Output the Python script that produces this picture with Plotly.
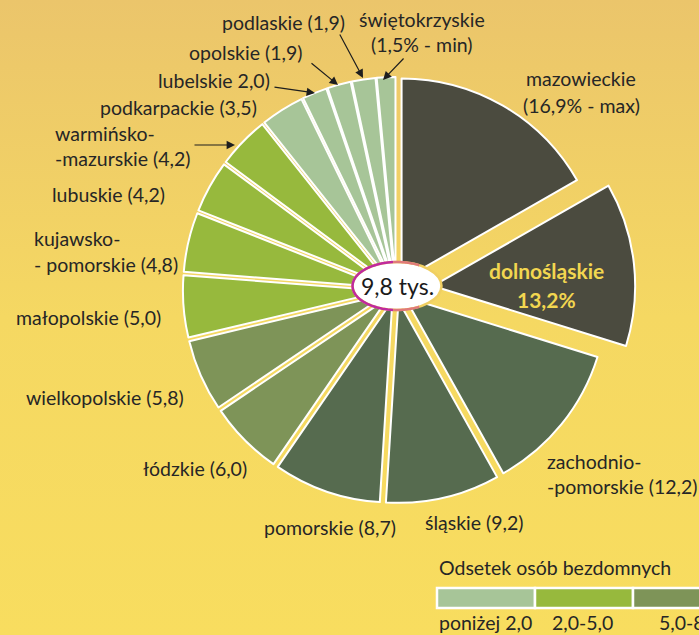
import base64
import math
import plotly.graph_objects as go

# ---------------- data ----------------
regions = ["mazowieckie", "dolnośląskie", "zachodniopomorskie", "śląskie", "pomorskie",
           "łódzkie", "wielkopolskie", "małopolskie", "kujawsko-pomorskie", "lubuskie",
           "warmińsko-mazurskie", "podkarpackie", "lubelskie", "opolskie", "podlaskie",
           "świętokrzyskie"]
shares = [16.9, 13.2, 12.2, 9.2, 8.7, 6.0, 5.8, 5.0, 4.8, 4.2, 4.2, 3.5, 2.0, 1.9, 1.9, 1.5]
share_class = [4, 4, 3, 3, 3, 2, 2, 1, 1, 1, 1, 0, 0, 0, 0, 0]
label_lines = [
    ["mazowieckie", "(16,9% - max)"],
    ["dolnośląskie", "13,2%"],
    ["zachodnio-", "-pomorskie (12,2)"],
    ["śląskie (9,2)"],
    ["pomorskie (8,7)"],
    ["łódzkie (6,0)"],
    ["wielkopolskie (5,8)"],
    ["małopolskie (5,0)"],
    ["kujawsko-", "- pomorskie (4,8)"],
    ["lubuskie (4,2)"],
    ["warmińsko-", "-mazurskie (4,2)"],
    ["podkarpackie (3,5)"],
    ["lubelskie 2,0)"],
    ["opolskie (1,9)"],
    ["podlaskie (1,9)"],
    ["świętokrzyskie", "(1,5% - min)"],
]
legend_title = "Odsetek osób bezdomnych"
legend_labels = ["poniżej 2,0", "2,0-5,0", "5,0-8,0"]
center_text = "9,8 tys."
highlight = "dolnośląskie"

# ---------------- styles ----------------
W, H = 699, 635
palette = ["#a7c598", "#97b93d", "#7e9458", "#566b4f", "#4b4b3f"]
txt_color = "#262626"
FONT = "Lato"
FS = 19.5


def P(x, y):
    return x / W, 1 - y / H


# pie geometry (pixels)
cx, cy, r = 396, 290, 202
small_pull, big_pull = 0.055, 0.185
maxpull = big_pull
half = r * (1 + maxpull)
x0, y_top = P(cx - half, cy - half)
x1, y_bot = P(cx + half, cy + half)

pulls = [big_pull if n == highlight else small_pull for n in regions]
colors = [palette[c] for c in share_class]

fig = go.Figure()
fig.add_trace(go.Pie(
    labels=regions, values=shares, sort=False, direction="clockwise", rotation=0,
    pull=pulls, textinfo="none", hoverinfo="label+value",
    marker=dict(colors=colors, line=dict(color="white", width=2)),
    domain=dict(x=[x0, x1], y=[y_bot, y_top]), showlegend=False,
))

# background gradient
svg = ('<svg xmlns="http://www.w3.org/2000/svg" width="699" height="635">'
       '<defs><linearGradient id="g" x1="0" y1="0" x2="0" y2="1">'
       '<stop offset="0" stop-color="#ebc56b"/>'
       '<stop offset="0.5" stop-color="#f5d862"/>'
       '<stop offset="1" stop-color="#f8dd5f"/>'
       '</linearGradient></defs>'
       '<rect width="699" height="635" fill="url(#g)"/></svg>')
src = "data:image/svg+xml;base64," + base64.b64encode(svg.encode()).decode()

annotations = []

# label placement (pixel positions of each line: x, y, anchor)
label_pos = {
    "mazowieckie": [(581, 79, "center"), (581, 105, "center")],
    "zachodniopomorskie": [(545, 461, "left"), (545, 487, "left")],
    "śląskie": [(474, 522, "center")],
    "pomorskie": [(330, 527, "center")],
    "łódzkie": [(195, 468, "center")],
    "wielkopolskie": [(105, 397, "center")],
    "małopolskie": [(88, 317, "center")],
    "kujawsko-pomorskie": [(32, 238, "left"), (32, 264, "left")],
    "lubuskie": [(108, 194, "center")],
    "warmińsko-mazurskie": [(53, 133, "left"), (53, 158, "left")],
    "podkarpackie": [(178, 107, "center")],
    "lubelskie": [(214, 80, "center")],
    "opolskie": [(245, 53, "center")],
    "podlaskie": [(283, 23, "center")],
    "świętokrzyskie": [(422, 20, "center"), (422, 45, "center")],
}
for name, lines in zip(regions, label_lines):
    if name == highlight:
        for ln, yy in zip(lines, (270, 299)):
            x, y = P(546, yy)
            annotations.append(dict(x=x, y=y, xref="paper", yref="paper", text="<b>%s</b>" % ln,
                                    showarrow=False, xanchor="center", yanchor="middle",
                                    font=dict(family=FONT, size=21, color="#f2d650")))
        continue
    for ln, (px, py, anc) in zip(lines, label_pos[name]):
        x, y = P(px, py)
        annotations.append(dict(x=x, y=y, xref="paper", yref="paper", text=ln, showarrow=False,
                                xanchor=anc, yanchor="middle",
                                font=dict(family=FONT, size=FS, color=txt_color)))

# leader arrows: (tail, head) in pixels
arrows = [((405, 57), (383, 80)), ((339, 33), (363, 78)), ((310, 62), (338, 85)),
          ((273, 87), (315, 93)), ((193, 145), (235, 145))]
for (tx, ty), (hx, hy) in arrows:
    x, y = P(hx, hy)
    annotations.append(dict(x=x, y=y, xref="paper", yref="paper", text="", showarrow=True,
                            ax=tx - hx, ay=ty - hy, arrowhead=2, arrowsize=1.4,
                            arrowwidth=1.2, arrowcolor="#1e1e1e", standoff=0))

shapes = []
# centre ellipse
ew, eh, ecx, ecy = 44.5, 24, 397, 286
ex0, ey0 = P(ecx - ew, ecy - eh)
ex1, ey1 = P(ecx + ew, ecy + eh)
shapes.append(dict(type="circle", xref="paper", yref="paper", x0=ex0, x1=ex1, y0=ey1, y1=ey0,
                   fillcolor="white", line=dict(color="#f0cf62", width=2.5)))


def arc_path(a0, a1, n=24):
    pts = []
    for i in range(n + 1):
        a = math.radians(a0 + (a1 - a0) * i / n)
        px = ecx + ew * math.cos(a)
        py = ecy + eh * math.sin(a)
        x, y = P(px, py)
        pts.append("%s%.5f,%.5f" % ("M" if i == 0 else "L", x, y))
    return " ".join(pts)


for a0, a1, col in [(95, 265, "#c02a9e"), (60, 95, "#e07a7a"), (265, 300, "#e07a7a")]:
    shapes.append(dict(type="path", xref="paper", yref="paper", path=arc_path(a0, a1),
                       line=dict(color=col, width=2.5)))

x, y = P(ecx, ecy)
annotations.append(dict(x=x, y=y, xref="paper", yref="paper", text=center_text, showarrow=False,
                        xanchor="center", yanchor="middle",
                        font=dict(family=FONT, size=23, color="#1a1a1a")))

# legend (colour bar boxes)
x, y = P(437, 567)
annotations.append(dict(x=x, y=y, xref="paper", yref="paper", text=legend_title, showarrow=False,
                        xanchor="left", yanchor="middle",
                        font=dict(family=FONT, size=FS, color=txt_color)))
box_w = 98
for i, lab in enumerate(legend_labels):
    bx0 = 437 + i * box_w
    a, b = P(bx0, 588)
    c, d = P(bx0 + box_w, 608)
    shapes.append(dict(type="rect", xref="paper", yref="paper", x0=a, x1=c, y0=d, y1=b,
                       fillcolor=palette[i], line=dict(color="white", width=2.5)))
lab_x = [437, 550, 657]
for lx, lab in zip(lab_x, legend_labels):
    x, y = P(lx, 622)
    annotations.append(dict(x=x, y=y, xref="paper", yref="paper", text=lab, showarrow=False,
                            xanchor="left", yanchor="middle",
                            font=dict(family=FONT, size=FS, color=txt_color)))

fig.update_layout(
    width=W, height=H, margin=dict(l=0, r=0, t=0, b=0),
    paper_bgcolor="#f5d862", plot_bgcolor="rgba(0,0,0,0)",
    images=[dict(source=src, xref="paper", yref="paper", x=0, y=1, sizex=1, sizey=1,
                 sizing="stretch", xanchor="left", yanchor="top", layer="below")],
    annotations=annotations, shapes=shapes, showlegend=False,
)
fig.write_html("out.html", config={"displayModeBar": False},
               post_script="document.body.style.margin='0';")
